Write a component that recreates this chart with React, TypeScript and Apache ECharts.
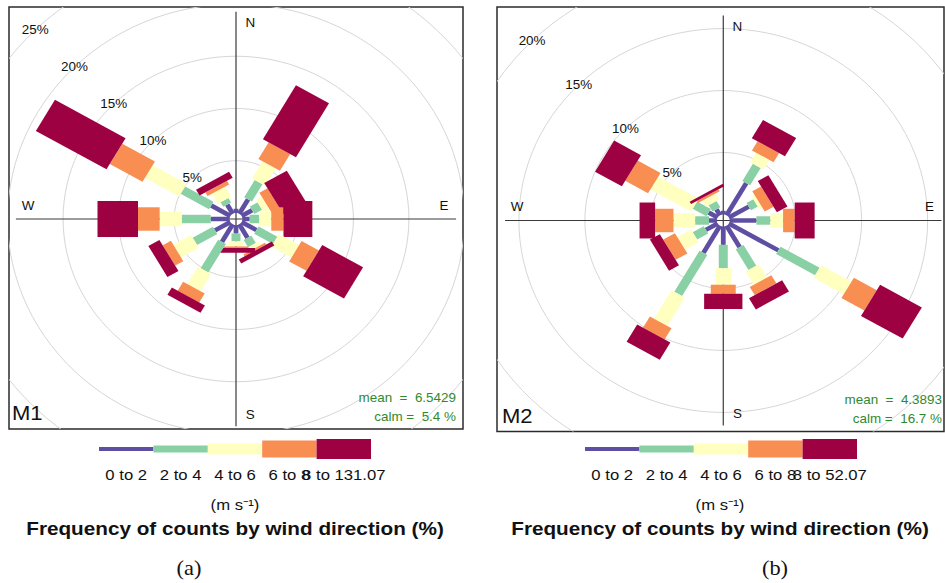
import React, { useEffect, useRef } from 'react';
import * as echarts from 'echarts';

// ---------------- data ----------------
const directions = [0, 30, 60, 90, 120, 150, 180, 210, 240, 270, 300, 330];
const speedLabelsM1 = ['0 to 2', '2 to 4', '4 to 6', '6 to 8', '8 to 131.07'];
const speedLabelsM2 = ['0 to 2', '2 to 4', '4 to 6', '6 to 8', '8 to 52.07'];

// frequency (%) per speed bin, one value per direction (same order as directions)
const m1Bin1 = [0.4, 1.6, 1.1, 0.65, 1.55, 1.5, 0.8, 1.95, 1.6, 1.7, 2.0, 1.0];
const m1Bin2 = [0, 1.9, 0.8, 0.85, 1.95, 0.8, 0.75, 3.15, 2.1, 2.6, 2.95, 0.5];
const m1Bin3 = [0, 1.9, 0.6, 1.1, 2.1, 0.4, 0.5, 1.9, 1.85, 2.0, 3.55, 1.1];
const m1Bin4 = [0, 1.85, 0.85, 1.1, 1.8, 0.2, 0.15, 1.0, 0.85, 1.95, 3.4, 0.4];
const m1Bin5 = [0, 5.95, 2.35, 2.6, 4.25, 0.45, 0.45, 0.8, 1.15, 3.65, 7.35, 0.65];

const m2Bin1 = [0.3, 3.0, 1.75, 2.03, 4.34, 2.0, 1.48, 2.53, 1.04, 0.6, 0.8, 0.56];
const m2Bin2 = [0, 1.6, 0.6, 1.06, 3.41, 1.93, 1.88, 3.82, 0.96, 1.05, 1.2, 0.58];
const m2Bin3 = [0, 0.9, 0.25, 0.96, 2.65, 1.23, 1.34, 2.65, 1.2, 1.64, 3.55, 0.56];
const m2Bin4 = [0, 0.85, 0.77, 0.88, 2.0, 0.76, 0.73, 1.05, 1.03, 1.39, 2.0, 0.18];
const m2Bin5 = [0, 1.7, 0.93, 1.51, 3.65, 1.04, 1.23, 1.6, 0.87, 1.18, 2.35, 0.22];

const ringLabelsM1 = [5, 10, 15, 20, 25];
const ringLabelsM2 = [5, 10, 15, 20];
const ringCircles = [5, 10, 15, 20, 25, 30];
const compassLabels = ['N', 'E', 'S', 'W'];

const m1Mean = '6.5429';
const m1Calm = '5.4 %';
const m2Mean = '4.3893';
const m2Calm = '16.7 %';

// ---------------- styling ----------------
const HOLE_FRACTION = 0.03;
const BAR_COLORS = ['#5E4FA2', '#89D0A5', '#FFFFBF', '#F98E52', '#9E0142'];
const WIDTH_RATIOS = [0.125, 0.235, 0.404, 0.652, 1];
const LEGEND_H = [4, 7, 11, 17, 20];
const SANS = '"Liberation Sans", Arial, sans-serif';
const SERIF = '"Liberation Serif", "Times New Roman", serif';
const SX = 1.12;

const panels = [
  {
    name: 'M1', bins: [m1Bin1, m1Bin2, m1Bin3, m1Bin4, m1Bin5], speedLabels: speedLabelsM1,
    mean: m1Mean, calm: m1Calm, ringLabels: ringLabelsM1, caption: '(a)',
    grid: { left: 9, top: 7, width: 454, height: 422 }, xRange: [-20.45, 20.45], yRange: [-20.1, 20.29],
    halfWidth: 1.72, legendX: 99, centerX: 235, captionX: 189, nameX: 12, nameY: 413,
    statsRight: 456, meanY: 398, calmY: 417,
  },
  {
    name: 'M2', bins: [m2Bin1, m2Bin2, m2Bin3, m2Bin4, m2Bin5], speedLabels: speedLabelsM2,
    mean: m2Mean, calm: m2Calm, ringLabels: ringLabelsM2, caption: '(b)',
    grid: { left: 497, top: 7, width: 447, height: 424.5 }, xRange: [-17.14, 16.72], yRange: [-17.02, 17.22],
    halfWidth: 1.45, legendX: 585, centerX: 720, captionX: 775, nameX: 502, nameY: 416,
    statsRight: 942, meanY: 400, calmY: 419,
  },
];

const rad = (d: number) => (d * Math.PI) / 180;

function buildOption() {
  const grids: any[] = [];
  const xAxes: any[] = [];
  const yAxes: any[] = [];
  const series: any[] = [];
  const graphics: any[] = [];

  panels.forEach((p, pi) => {
    grids.push({ ...p.grid, show: true, borderColor: '#2b2b2b', borderWidth: 1.5, backgroundColor: '#fff' });
    xAxes.push({ type: 'value', gridIndex: pi, min: p.xRange[0], max: p.xRange[1], show: false });
    yAxes.push({ type: 'value', gridIndex: pi, min: p.yRange[0], max: p.yRange[1], show: false });

    const totals = directions.map((_, di) => p.bins.reduce((s, b) => s + b[di], 0));
    const maxFreq = Math.max(...totals);
    const hole = HOLE_FRACTION * maxFreq;
    const mymax = maxFreq + hole;

    // grey rings
    series.push({
      type: 'custom', xAxisIndex: pi, yAxisIndex: pi, z: 1, clip: true, silent: true,
      data: ringCircles.map((v) => [v, 0]),
      renderItem: (params: any, api: any) => {
        const r = api.value(0) + hole;
        const pts: number[][] = [];
        for (let k = 0; k <= 120; k++) {
          const a = rad(k * 3);
          pts.push(api.coord([r * Math.sin(a), r * Math.cos(a)]));
        }
        return { type: 'polyline', shape: { points: pts }, style: { fill: 'none', stroke: '#d6d6d6', lineWidth: 1 } };
      },
    });

    // axis cross lines
    series.push({
      type: 'custom', xAxisIndex: pi, yAxisIndex: pi, z: 2, clip: true, silent: true,
      data: [[0, 0]],
      renderItem: (params: any, api: any) => {
        const a1 = api.coord([-mymax, 0]);
        const a2 = api.coord([mymax, 0]);
        const b1 = api.coord([0, -mymax]);
        const b2 = api.coord([0, mymax]);
        const st = { stroke: '#3a3a3a', lineWidth: 1.2 };
        return {
          type: 'group',
          children: [
            { type: 'line', shape: { x1: a1[0], y1: a1[1], x2: a2[0], y2: a2[1] }, style: st },
            { type: 'line', shape: { x1: b1[0], y1: b1[1], x2: b2[0], y2: b2[1] }, style: st },
          ],
        };
      },
    });

    // paddles
    const barData: number[][] = [];
    directions.forEach((d, di) => {
      let acc = 0;
      p.bins.forEach((b, bi) => {
        const v = b[di];
        if (v > 0) barData.push([d, acc, acc + v, bi]);
        acc += v;
      });
    });
    const hw = p.halfWidth;
    series.push({
      type: 'custom', xAxisIndex: pi, yAxisIndex: pi, z: 3, silent: true,
      data: barData,
      renderItem: (params: any, api: any) => {
        const th = rad(api.value(0));
        const r0 = api.value(1) + hole;
        const r1 = api.value(2) + hole;
        const bi = api.value(3);
        const w = hw * WIDTH_RATIOS[bi];
        const ux = Math.sin(th), uy = Math.cos(th);
        const px = Math.cos(th), py = -Math.sin(th);
        const pts = [
          [r0 * ux + w * px, r0 * uy + w * py],
          [r1 * ux + w * px, r1 * uy + w * py],
          [r1 * ux - w * px, r1 * uy - w * py],
          [r0 * ux - w * px, r0 * uy - w * py],
        ].map((q) => api.coord(q));
        return { type: 'polygon', shape: { points: pts }, style: { fill: BAR_COLORS[bi], stroke: null } };
      },
    });

    // ring labels
    series.push({
      type: 'custom', xAxisIndex: pi, yAxisIndex: pi, z: 4, silent: true,
      data: p.ringLabels.map((v) => [v, 0]),
      renderItem: (params: any, api: any) => {
        const v = api.value(0);
        const r = v + hole;
        const a = rad(315);
        const c = api.coord([r * Math.sin(a), r * Math.cos(a)]);
        return {
          type: 'text', x: c[0], y: c[1], scaleX: SX,
          style: { text: v + '%', fill: '#111', fontSize: 12, fontFamily: SANS, align: 'center', verticalAlign: 'middle' },
        };
      },
    });

    // compass labels
    series.push({
      type: 'custom', xAxisIndex: pi, yAxisIndex: pi, z: 4, silent: true,
      data: compassLabels.map((_, i) => [i, 0]),
      renderItem: (params: any, api: any) => {
        const i = api.value(0);
        const a = rad(i * 90);
        const ns = i % 2 === 0;
        const x = 0.945 * mymax * Math.sin(a) + (ns ? 0.065 * mymax : 0);
        const y = 0.945 * mymax * Math.cos(a) + (ns ? 0 : 0.065 * mymax);
        const c = api.coord([x, y]);
        return {
          type: 'text', x: c[0], y: c[1], scaleX: SX,
          style: { text: compassLabels[i], fill: '#111', fontSize: 12, fontFamily: SANS, align: 'center', verticalAlign: 'middle' },
        };
      },
    });

    // panel texts
    graphics.push({
      type: 'text', x: p.nameX, y: p.nameY, z: 10, scaleX: 1.05,
      style: { text: p.name, fill: '#111', fontSize: 21, fontFamily: SANS, align: 'left', verticalAlign: 'middle' },
    });
    graphics.push({
      type: 'text', x: p.statsRight, y: p.meanY, z: 10, scaleX: SX,
      style: { text: 'mean  =  ' + p.mean, fill: '#2f8a2f', fontSize: 12, fontFamily: SANS, align: 'right', verticalAlign: 'middle' },
    });
    graphics.push({
      type: 'text', x: p.statsRight, y: p.calmY, z: 10, scaleX: SX,
      style: { text: 'calm =  ' + p.calm, fill: '#2f8a2f', fontSize: 12, fontFamily: SANS, align: 'right', verticalAlign: 'middle' },
    });

    // legend key
    const segW = 54.4;
    BAR_COLORS.forEach((col, bi) => {
      const h = LEGEND_H[bi];
      graphics.push({
        type: 'rect', z: 10,
        shape: { x: p.legendX + bi * segW, y: 449 - h / 2, width: segW, height: h },
        style: { fill: col },
      });
      graphics.push({
        type: 'text', z: 11, x: p.legendX + bi * segW + segW / 2, y: 475, scaleX: 1.15,
        style: { text: p.speedLabels[bi], fill: '#111', fontSize: 14.5, fontFamily: SANS, align: 'center', verticalAlign: 'middle' },
      });
    });
    graphics.push({
      type: 'text', z: 10, x: p.centerX, y: 505, scaleX: 1.15,
      style: { text: '(m s\u207B\u00B9)', fill: '#111', fontSize: 14.5, fontFamily: SANS, align: 'center', verticalAlign: 'middle' },
    });
    graphics.push({
      type: 'text', z: 10, x: p.centerX, y: 528, scaleX: SX,
      style: { text: 'Frequency of counts by wind direction (%)', fill: '#111', fontSize: 18.5, fontWeight: 'bold', fontFamily: SANS, align: 'center', verticalAlign: 'middle' },
    });
    graphics.push({
      type: 'text', z: 10, x: p.captionX, y: 568, scaleX: SX,
      style: { text: p.caption, fill: '#111', fontSize: 20, fontFamily: SERIF, align: 'center', verticalAlign: 'middle' },
    });
  });

  return {
    animation: false,
    backgroundColor: '#ffffff',
    grid: grids,
    xAxis: xAxes,
    yAxis: yAxes,
    series,
    graphic: graphics,
  };
}

export default function App() {
  const ref = useRef<HTMLDivElement>(null);
  useEffect(() => {
    const chart = echarts.init(ref.current as HTMLDivElement, null, { renderer: 'svg' });
    chart.setOption(buildOption() as any);
    return () => chart.dispose();
  }, []);
  return (
    <div
      ref={ref}
      style={{ position: 'absolute', left: 0, top: 0, width: 945, height: 583, background: '#fff' }}
    />
  );
}
